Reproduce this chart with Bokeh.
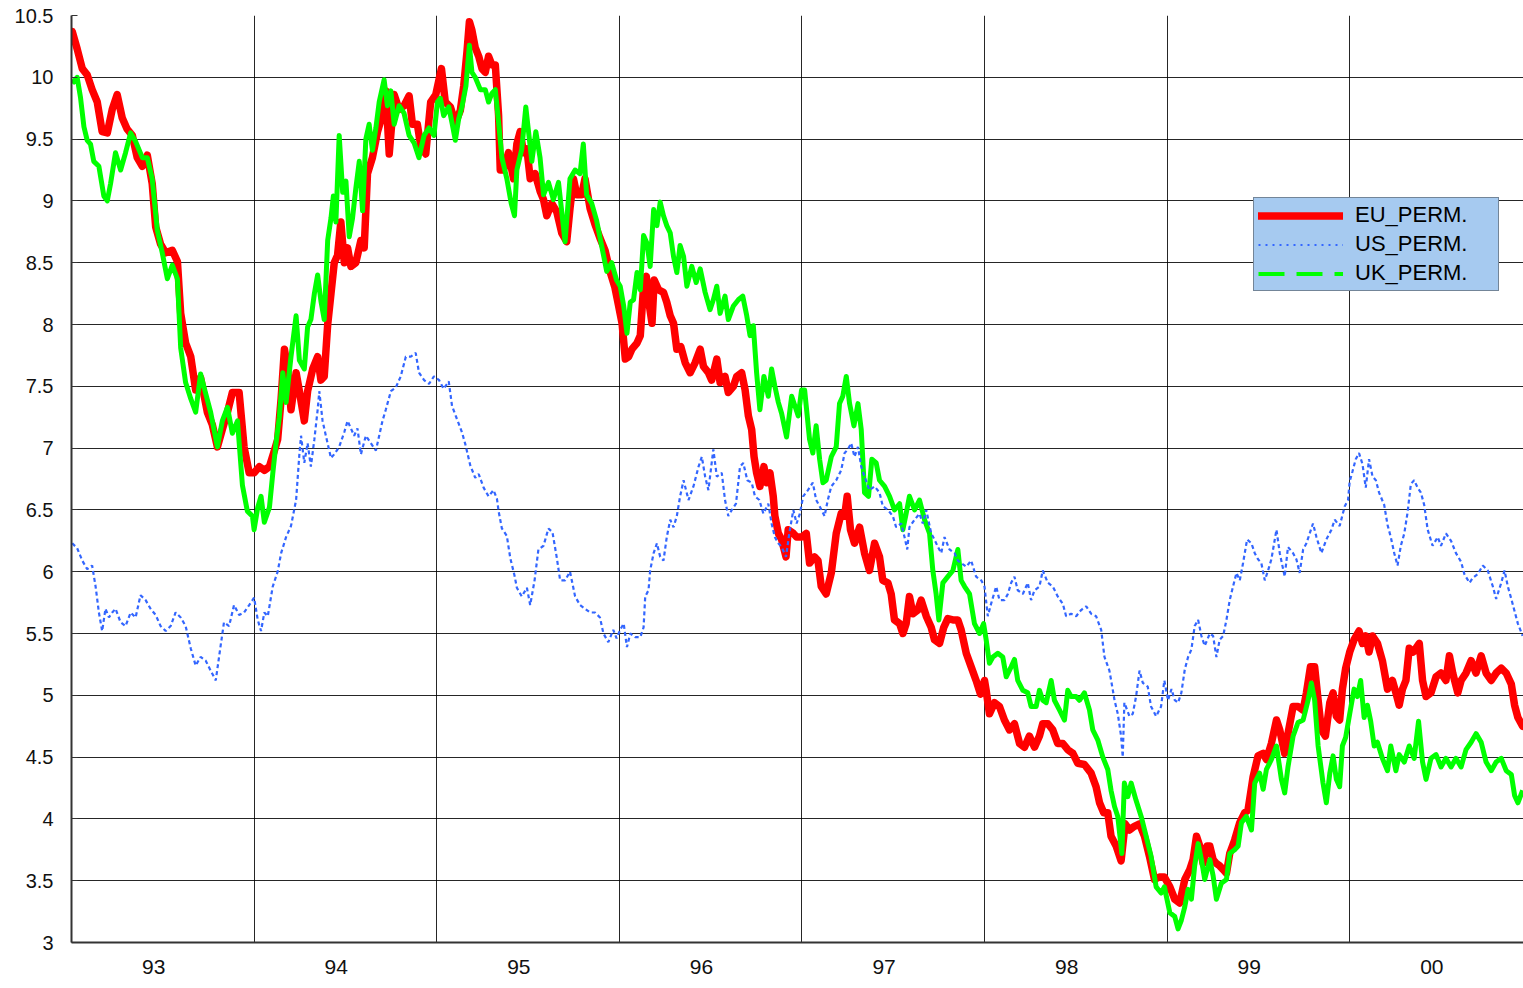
from bokeh.plotting import figure
from bokeh.models import Range1d, FixedTicker, Legend, LegendItem, CustomJSTickFormatter
from bokeh.embed import file_html
from bokeh.resources import INLINE

# (decimal year, value)
eu_perm = [
 (1993.004,10.37),(1993.031,10.23),(1993.059,10.07),(1993.086,10.02),(1993.113,9.90),(1993.141,9.80),(1993.168,9.56),(1993.196,9.55),
 (1993.223,9.74),(1993.250,9.86),(1993.278,9.67),(1993.305,9.58),(1993.333,9.53),(1993.360,9.35),(1993.388,9.28),(1993.415,9.37),
 (1993.442,9.14),(1993.461,8.79),(1993.488,8.65),(1993.516,8.58),(1993.552,8.60),(1993.580,8.51),(1993.598,8.09),(1993.625,7.85),
 (1993.653,7.74),(1993.680,7.47),(1993.707,7.57),(1993.744,7.29),(1993.771,7.19),(1993.799,7.01),(1993.826,7.15),(1993.854,7.29),
 (1993.881,7.45),(1993.918,7.45),(1993.945,7.01),(1993.973,6.80),
 (1994.000,6.80),(1994.029,6.85),(1994.056,6.82),(1994.084,6.85),(1994.111,6.98),(1994.129,7.07),(1994.148,7.40),(1994.166,7.80),
 (1994.184,7.64),(1994.202,7.31),(1994.230,7.61),(1994.248,7.46),(1994.275,7.22),(1994.293,7.46),(1994.321,7.64),(1994.348,7.74),
 (1994.366,7.55),(1994.384,7.58),(1994.403,8.00),(1994.421,8.25),(1994.439,8.50),(1994.457,8.56),(1994.475,8.83),(1994.494,8.50),
 (1994.512,8.62),(1994.530,8.47),(1994.557,8.50),(1994.585,8.68),(1994.603,8.62),(1994.621,9.22),(1994.648,9.35),(1994.676,9.56),
 (1994.694,9.65),(1994.721,9.89),(1994.740,9.38),(1994.767,9.86),(1994.794,9.74),(1994.821,9.77),(1994.849,9.85),(1994.867,9.62),
 (1994.894,9.62),(1994.913,9.44),(1994.940,9.38),(1994.967,9.80),(1994.995,9.86),
 (1995.011,9.97),(1995.026,10.07),(1995.047,9.80),(1995.075,9.76),(1995.102,9.63),(1995.129,9.73),(1995.148,9.93),(1995.166,10.21),
 (1995.179,10.45),(1995.193,10.38),(1995.211,10.24),(1995.230,10.17),(1995.248,10.07),(1995.266,10.04),(1995.284,10.17),(1995.302,10.10),
 (1995.321,10.10),(1995.339,9.69),(1995.348,9.25),(1995.366,9.25),(1995.393,9.39),(1995.421,9.18),(1995.439,9.46),(1995.457,9.56),
 (1995.475,9.39),(1995.494,9.42),(1995.512,9.18),(1995.539,9.22),(1995.566,9.08),(1995.585,9.01),(1995.603,8.88),(1995.630,8.98),
 (1995.658,8.91),(1995.685,8.74),(1995.712,8.67),(1995.730,8.94),(1995.749,9.18),(1995.767,9.05),(1995.794,9.05),(1995.812,9.18),
 (1995.840,8.94),(1995.867,8.81),(1995.894,8.70),(1995.922,8.60),(1995.949,8.43),(1995.976,8.30),(1995.995,8.16),
 (1996.015,8.01),(1996.033,7.72),(1996.051,7.74),(1996.069,7.80),(1996.097,7.85),(1996.115,7.91),(1996.133,8.31),(1996.148,8.39),
 (1996.160,8.20),(1996.179,8.01),(1996.191,8.36),(1996.215,8.28),(1996.242,8.26),(1996.260,8.18),(1996.279,8.07),(1996.297,8.01),
 (1996.315,7.80),(1996.337,7.82),(1996.361,7.69),(1996.388,7.61),(1996.415,7.69),(1996.443,7.80),(1996.461,7.66),(1996.488,7.61),
 (1996.506,7.55),(1996.534,7.72),(1996.552,7.53),(1996.579,7.58),(1996.597,7.45),(1996.625,7.50),(1996.643,7.58),(1996.670,7.61),
 (1996.689,7.47),(1996.707,7.26),(1996.725,7.15),(1996.738,6.93),(1996.752,6.80),(1996.770,6.69),(1996.792,6.85),(1996.807,6.72),
 (1996.825,6.80),(1996.843,6.61),(1996.852,6.45),(1996.871,6.31),(1996.889,6.26),(1996.913,6.12),(1996.925,6.34),(1996.953,6.31),
 (1996.971,6.28),(1996.998,6.28),
 (1997.024,6.31),(1997.042,6.07),(1997.069,6.12),(1997.088,6.09),(1997.106,5.88),(1997.133,5.82),(1997.161,5.99),(1997.188,6.31),
 (1997.215,6.47),(1997.234,6.45),(1997.248,6.61),(1997.266,6.34),(1997.288,6.23),(1997.316,6.36),(1997.343,6.15),(1997.370,6.01),
 (1997.398,6.23),(1997.425,6.12),(1997.443,5.93),(1997.471,5.91),(1997.489,5.82),(1997.507,5.61),(1997.535,5.58),(1997.553,5.50),
 (1997.571,5.58),(1997.589,5.80),(1997.608,5.66),(1997.635,5.69),(1997.653,5.77),(1997.681,5.64),(1997.708,5.55),(1997.726,5.45),
 (1997.754,5.42),(1997.777,5.55),(1997.799,5.62),(1997.827,5.61),(1997.854,5.61),(1997.872,5.53),(1997.900,5.34),(1997.927,5.23),
 (1997.954,5.12),(1997.978,5.01),
 (1998.000,5.12),(1998.009,5.04),(1998.027,4.85),(1998.055,4.94),(1998.082,4.91),(1998.109,4.80),(1998.137,4.72),(1998.164,4.77),
 (1998.192,4.61),(1998.219,4.58),(1998.246,4.67),(1998.274,4.58),(1998.301,4.67),(1998.319,4.77),(1998.347,4.77),(1998.374,4.72),
 (1998.401,4.61),(1998.429,4.61),(1998.456,4.56),(1998.484,4.53),(1998.511,4.45),(1998.547,4.44),(1998.584,4.37),(1998.611,4.26),
 (1998.630,4.13),(1998.653,4.05),(1998.675,4.05),(1998.693,3.86),(1998.721,3.78),(1998.748,3.66),(1998.770,3.96),(1998.794,3.91),
 (1998.821,3.94),(1998.849,3.96),(1998.876,3.86),(1998.903,3.70),(1998.931,3.51),(1998.958,3.53),(1998.985,3.53),
 (1999.015,3.45),(1999.042,3.35),(1999.069,3.32),(1999.097,3.51),(1999.124,3.59),(1999.142,3.67),(1999.161,3.86),(1999.179,3.78),
 (1999.197,3.64),(1999.219,3.78),(1999.234,3.78),(1999.252,3.67),(1999.270,3.64),(1999.288,3.62),(1999.307,3.59),(1999.325,3.56),
 (1999.343,3.72),(1999.370,3.83),(1999.398,3.97),(1999.425,4.05),(1999.443,4.07),(1999.471,4.34),(1999.498,4.51),(1999.526,4.53),
 (1999.544,4.48),(1999.571,4.61),(1999.599,4.80),(1999.617,4.72),(1999.644,4.53),(1999.662,4.69),(1999.690,4.91),(1999.717,4.91),
 (1999.745,4.88),(1999.763,5.02),(1999.785,5.23),(1999.808,5.23),(1999.827,4.96),(1999.845,4.72),(1999.867,4.67),(1999.891,4.94),
 (1999.909,5.02),(1999.927,4.83),(1999.945,4.80),(1999.960,5.05),(1999.978,5.22),
 (2000.000,5.35),(2000.024,5.45),(2000.051,5.52),(2000.070,5.42),(2000.088,5.48),(2000.106,5.35),(2000.125,5.48),(2000.152,5.42),
 (2000.179,5.28),(2000.207,5.05),(2000.234,5.12),(2000.253,5.02),(2000.271,4.92),(2000.289,5.05),(2000.308,5.12),(2000.326,5.38),
 (2000.348,5.35),(2000.381,5.42),(2000.399,5.12),(2000.418,4.99),(2000.445,5.02),(2000.473,5.15),(2000.500,5.18),(2000.527,5.12),
 (2000.546,5.32),(2000.564,5.18),(2000.592,5.02),(2000.610,5.12),(2000.637,5.18),(2000.665,5.28),(2000.692,5.18),(2000.720,5.32),
 (2000.747,5.18),(2000.775,5.12),(2000.802,5.18),(2000.830,5.22),(2000.857,5.18),(2000.885,5.09),(2000.903,4.92),(2000.921,4.82),
 (2000.947,4.75),
]

uk_perm = [
 (1993.004,9.95),(1993.031,10.00),(1993.049,9.84),(1993.068,9.60),(1993.086,9.49),(1993.104,9.46),(1993.122,9.32),(1993.150,9.28),
 (1993.177,9.04),(1993.196,9.00),(1993.214,9.14),(1993.241,9.39),(1993.269,9.25),(1993.296,9.39),(1993.324,9.55),(1993.351,9.48),
 (1993.388,9.35),(1993.415,9.35),(1993.442,9.18),(1993.470,8.76),(1993.497,8.58),(1993.525,8.37),(1993.552,8.48),(1993.580,8.37),
 (1993.598,7.81),(1993.625,7.53),(1993.653,7.40),(1993.680,7.29),(1993.707,7.60),(1993.735,7.44),(1993.762,7.29),(1993.799,7.01),
 (1993.826,7.22),(1993.854,7.33),(1993.881,7.12),(1993.909,7.22),(1993.936,6.70),(1993.963,6.49),(1993.991,6.45),
 (1994.000,6.34),(1994.020,6.52),(1994.038,6.61),(1994.056,6.40),(1994.084,6.52),(1994.102,6.79),(1994.120,7.04),(1994.138,7.25),
 (1994.157,7.61),(1994.175,7.37),(1994.202,7.74),(1994.230,8.07),(1994.248,7.71),(1994.275,7.64),(1994.293,7.98),(1994.311,8.04),
 (1994.330,8.25),(1994.348,8.40),(1994.366,8.19),(1994.384,8.04),(1994.403,8.68),(1994.421,8.86),(1994.434,9.04),(1994.448,8.83),
 (1994.466,9.53),(1994.485,9.07),(1994.503,9.16),(1994.521,8.71),(1994.539,8.86),(1994.557,9.10),(1994.576,9.32),(1994.594,8.92),
 (1994.612,9.50),(1994.630,9.62),(1994.648,9.41),(1994.667,9.59),(1994.685,9.80),(1994.712,9.98),(1994.730,9.77),(1994.749,9.89),
 (1994.767,9.62),(1994.794,9.77),(1994.821,9.71),(1994.849,9.53),(1994.876,9.47),(1994.903,9.35),(1994.931,9.53),(1994.958,9.59),
 (1994.985,9.53),
 (1995.004,9.80),(1995.020,9.83),(1995.038,9.69),(1995.066,9.76),(1995.084,9.63),(1995.102,9.49),(1995.120,9.66),(1995.138,9.76),
 (1995.160,9.93),(1995.179,10.26),(1995.193,10.04),(1995.211,10.00),(1995.239,9.90),(1995.266,9.90),(1995.284,9.80),(1995.302,9.87),
 (1995.321,9.90),(1995.342,9.59),(1995.357,9.35),(1995.384,9.18),(1995.408,8.98),(1995.426,8.88),(1995.439,9.25),(1995.466,9.42),
 (1995.488,9.76),(1995.503,9.56),(1995.521,9.32),(1995.543,9.56),(1995.566,9.35),(1995.585,9.05),(1995.612,9.15),(1995.639,9.01),
 (1995.667,9.15),(1995.685,8.91),(1995.703,8.67),(1995.730,9.18),(1995.758,9.25),(1995.785,9.22),(1995.803,9.46),(1995.821,9.05),
 (1995.849,8.98),(1995.876,8.84),(1995.903,8.64),(1995.931,8.43),(1995.958,8.50),(1995.985,8.36),
 (1996.005,8.31),(1996.024,8.15),(1996.042,7.93),(1996.060,8.18),(1996.078,8.20),(1996.097,8.42),(1996.115,8.28),(1996.133,8.72),
 (1996.151,8.66),(1996.169,8.47),(1996.188,8.93),(1996.206,8.80),(1996.224,8.99),(1996.242,8.88),(1996.260,8.80),(1996.279,8.74),
 (1996.297,8.55),(1996.315,8.42),(1996.333,8.64),(1996.352,8.55),(1996.370,8.31),(1996.397,8.47),(1996.421,8.34),(1996.443,8.45),
 (1996.470,8.26),(1996.497,8.12),(1996.515,8.20),(1996.534,8.31),(1996.552,8.09),(1996.579,8.23),(1996.597,8.04),(1996.625,8.15),
 (1996.652,8.20),(1996.676,8.23),(1996.698,8.07),(1996.716,7.91),(1996.734,7.99),(1996.752,7.61),(1996.770,7.31),(1996.792,7.58),
 (1996.816,7.42),(1996.834,7.64),(1996.852,7.50),(1996.871,7.37),(1996.889,7.28),(1996.916,7.09),(1996.944,7.42),(1996.962,7.34),
 (1996.980,7.26),(1996.998,7.47),
 (1997.015,7.47),(1997.042,7.07),(1997.060,6.96),(1997.078,7.18),(1997.097,6.91),(1997.115,6.72),(1997.133,6.74),(1997.161,6.93),
 (1997.188,7.01),(1997.206,7.36),(1997.224,7.42),(1997.243,7.58),(1997.261,7.36),(1997.285,7.18),(1997.307,7.36),(1997.325,7.15),
 (1997.343,6.64),(1997.365,6.61),(1997.383,6.91),(1997.407,6.88),(1997.425,6.74),(1997.453,6.69),(1997.480,6.61),(1997.507,6.50),
 (1997.535,6.55),(1997.553,6.34),(1997.571,6.47),(1997.589,6.61),(1997.617,6.50),(1997.644,6.58),(1997.672,6.42),(1997.699,6.31),
 (1997.717,6.01),(1997.735,5.82),(1997.750,5.61),(1997.772,5.91),(1997.799,5.96),(1997.827,6.01),(1997.854,6.18),(1997.872,5.93),
 (1997.891,5.88),(1997.918,5.82),(1997.945,5.58),(1997.973,5.50),(1997.995,5.58),
 (1998.009,5.45),(1998.027,5.26),(1998.046,5.31),(1998.073,5.34),(1998.100,5.31),(1998.119,5.15),(1998.146,5.23),(1998.164,5.29),
 (1998.182,5.12),(1998.210,5.04),(1998.237,5.02),(1998.255,4.91),(1998.283,4.91),(1998.301,5.04),(1998.319,4.96),(1998.338,4.94),
 (1998.365,5.12),(1998.383,4.96),(1998.411,4.88),(1998.438,4.80),(1998.456,5.04),(1998.474,4.99),(1998.502,4.99),(1998.520,4.96),
 (1998.547,5.02),(1998.575,4.88),(1998.593,4.72),(1998.620,4.64),(1998.648,4.50),(1998.675,4.40),(1998.693,4.23),(1998.712,4.10),
 (1998.730,4.02),(1998.752,3.72),(1998.766,4.29),(1998.785,4.18),(1998.803,4.29),(1998.830,4.15),(1998.858,4.02),(1998.885,3.86),
 (1998.912,3.70),(1998.940,3.45),(1998.967,3.40),(1998.985,3.45),
 (1999.015,3.24),(1999.042,3.21),(1999.060,3.11),(1999.078,3.18),(1999.097,3.29),(1999.115,3.43),(1999.133,3.35),(1999.151,3.62),
 (1999.170,3.80),(1999.188,3.67),(1999.206,3.51),(1999.234,3.67),(1999.252,3.54),(1999.270,3.35),(1999.297,3.48),(1999.325,3.51),
 (1999.343,3.72),(1999.370,3.75),(1999.389,3.78),(1999.407,3.97),(1999.434,4.02),(1999.462,3.91),(1999.480,4.29),(1999.507,4.37),
 (1999.526,4.24),(1999.544,4.40),(1999.571,4.48),(1999.599,4.59),(1999.626,4.32),(1999.644,4.21),(1999.662,4.42),(1999.690,4.67),
 (1999.717,4.78),(1999.745,4.80),(1999.772,4.96),(1999.790,5.10),(1999.808,4.96),(1999.827,4.59),(1999.854,4.29),(1999.872,4.13),
 (1999.891,4.37),(1999.909,4.51),(1999.927,4.32),(1999.945,4.26),(1999.960,4.59),(1999.978,4.66),
 (2000.000,4.85),(2000.024,5.05),(2000.042,4.99),(2000.060,5.12),(2000.079,4.82),(2000.097,4.92),(2000.115,4.79),(2000.134,4.59),
 (2000.152,4.62),(2000.179,4.49),(2000.207,4.39),(2000.225,4.59),(2000.253,4.39),(2000.271,4.52),(2000.299,4.46),(2000.326,4.59),
 (2000.353,4.49),(2000.377,4.79),(2000.399,4.46),(2000.418,4.32),(2000.445,4.49),(2000.473,4.52),(2000.500,4.42),(2000.527,4.49),
 (2000.555,4.42),(2000.582,4.49),(2000.610,4.42),(2000.637,4.56),(2000.665,4.62),(2000.692,4.69),(2000.720,4.62),(2000.747,4.46),
 (2000.775,4.39),(2000.802,4.46),(2000.830,4.49),(2000.857,4.39),(2000.885,4.36),(2000.903,4.19),(2000.921,4.13),(2000.947,4.23),
]

us_perm = [
 (1993.004,6.23),(1993.031,6.19),(1993.059,6.09),(1993.086,6.02),(1993.113,6.05),(1993.132,5.88),(1993.150,5.67),(1993.168,5.52),
 (1993.186,5.70),(1993.205,5.63),(1993.223,5.67),(1993.241,5.70),(1993.269,5.59),(1993.296,5.56),(1993.324,5.67),(1993.351,5.63),
 (1993.378,5.81),(1993.406,5.77),(1993.433,5.70),(1993.461,5.65),(1993.488,5.56),(1993.516,5.52),(1993.543,5.56),(1993.570,5.67),
 (1993.598,5.63),(1993.625,5.56),(1993.653,5.38),(1993.680,5.24),(1993.707,5.31),(1993.735,5.28),(1993.762,5.20),(1993.790,5.12),
 (1993.808,5.31),(1993.835,5.59),(1993.863,5.56),(1993.890,5.73),(1993.918,5.65),(1993.945,5.67),(1993.973,5.73),
 (1994.000,5.79),(1994.020,5.61),(1994.038,5.52),(1994.056,5.67),(1994.075,5.64),(1994.102,5.88),(1994.129,6.00),(1994.148,6.15),
 (1994.175,6.28),(1994.202,6.37),(1994.230,6.58),(1994.248,6.95),(1994.257,7.10),(1994.275,6.88),(1994.293,7.04),(1994.311,6.85),
 (1994.330,7.07),(1994.348,7.31),(1994.357,7.46),(1994.375,7.22),(1994.393,7.10),(1994.421,6.92),(1994.439,6.95),(1994.466,7.01),
 (1994.494,7.13),(1994.512,7.22),(1994.530,7.16),(1994.548,7.10),(1994.566,7.16),(1994.585,6.95),(1994.612,7.10),(1994.639,7.04),
 (1994.667,6.98),(1994.685,7.10),(1994.703,7.22),(1994.721,7.31),(1994.749,7.46),(1994.776,7.49),(1994.803,7.58),(1994.831,7.74),
 (1994.858,7.74),(1994.885,7.77),(1994.903,7.61),(1994.931,7.55),(1994.958,7.52),(1994.985,7.58),
 (1995.013,7.55),(1995.038,7.48),(1995.066,7.54),(1995.084,7.34),(1995.102,7.27),(1995.120,7.20),(1995.138,7.13),(1995.157,7.03),
 (1995.184,6.86),(1995.211,6.76),(1995.230,6.79),(1995.257,6.68),(1995.284,6.61),(1995.311,6.66),(1995.330,6.59),(1995.339,6.49),
 (1995.357,6.35),(1995.384,6.29),(1995.403,6.11),(1995.426,5.97),(1995.439,5.87),(1995.466,5.80),(1995.494,5.87),(1995.512,5.73),
 (1995.536,5.93),(1995.557,6.18),(1995.585,6.21),(1995.612,6.35),(1995.634,6.32),(1995.658,6.11),(1995.676,5.93),(1995.703,5.93),
 (1995.730,6.00),(1995.758,5.80),(1995.785,5.73),(1995.812,5.70),(1995.840,5.67),(1995.867,5.67),(1995.894,5.63),(1995.913,5.50),
 (1995.940,5.43),(1995.967,5.53),(1995.985,5.46),
 (1996.005,5.53),(1996.024,5.58),(1996.042,5.39),(1996.060,5.50),(1996.087,5.47),(1996.115,5.47),(1996.133,5.55),(1996.142,5.80),
 (1996.160,5.85),(1996.169,6.01),(1996.188,6.15),(1996.206,6.23),(1996.224,6.12),(1996.242,6.09),(1996.260,6.28),(1996.279,6.42),
 (1996.297,6.36),(1996.315,6.45),(1996.333,6.61),(1996.352,6.74),(1996.379,6.58),(1996.406,6.69),(1996.434,6.85),(1996.452,6.93),
 (1996.470,6.77),(1996.488,6.66),(1996.515,6.99),(1996.534,6.77),(1996.561,6.80),(1996.579,6.58),(1996.597,6.45),(1996.616,6.50),
 (1996.639,6.55),(1996.661,6.85),(1996.679,6.88),(1996.701,6.74),(1996.725,6.72),(1996.743,6.61),(1996.767,6.58),(1996.789,6.47),
 (1996.816,6.55),(1996.834,6.39),(1996.852,6.28),(1996.871,6.23),(1996.889,6.20),(1996.913,6.12),(1996.931,6.31),(1996.953,6.50),
 (1996.971,6.39),(1996.989,6.47),
 (1997.007,6.61),(1997.033,6.66),(1997.060,6.72),(1997.078,6.58),(1997.097,6.53),(1997.124,6.45),(1997.142,6.58),(1997.161,6.69),
 (1997.188,6.74),(1997.215,6.82),(1997.234,6.96),(1997.252,6.99),(1997.270,7.04),(1997.288,6.93),(1997.307,7.01),(1997.325,6.85),
 (1997.343,6.77),(1997.370,6.66),(1997.398,6.69),(1997.425,6.64),(1997.443,6.53),(1997.471,6.50),(1997.498,6.45),(1997.516,6.36),
 (1997.544,6.39),(1997.562,6.28),(1997.577,6.18),(1997.589,6.36),(1997.617,6.42),(1997.644,6.47),(1997.662,6.39),(1997.681,6.50),
 (1997.708,6.31),(1997.726,6.26),(1997.745,6.20),(1997.763,6.15),(1997.781,6.28),(1997.808,6.18),(1997.836,6.15),(1997.854,6.09),
 (1997.872,6.07),(1997.900,6.04),(1997.927,6.09),(1997.954,5.96),(1997.982,5.93),
 (1998.000,5.88),(1998.018,5.64),(1998.036,5.74),(1998.064,5.88),(1998.082,5.77),(1998.109,5.77),(1998.128,5.82),(1998.146,5.91),
 (1998.164,5.96),(1998.182,5.85),(1998.210,5.82),(1998.237,5.91),(1998.255,5.77),(1998.274,5.85),(1998.301,5.88),(1998.319,6.01),
 (1998.347,5.91),(1998.374,5.88),(1998.401,5.80),(1998.429,5.74),(1998.447,5.64),(1998.474,5.66),(1998.502,5.64),(1998.529,5.69),
 (1998.557,5.72),(1998.584,5.66),(1998.611,5.64),(1998.639,5.53),(1998.657,5.31),(1998.684,5.20),(1998.703,5.04),(1998.712,4.96),
 (1998.730,4.85),(1998.748,4.67),(1998.757,4.50),(1998.766,4.94),(1998.794,4.83),(1998.812,4.85),(1998.830,4.99),(1998.849,5.20),
 (1998.867,5.10),(1998.894,5.07),(1998.912,4.91),(1998.940,4.83),(1998.967,4.91),(1998.985,5.12),
 (1999.005,4.96),(1999.024,5.05),(1999.042,4.96),(1999.060,4.94),(1999.078,5.02),(1999.097,5.21),(1999.115,5.31),(1999.133,5.37),
 (1999.151,5.56),(1999.170,5.61),(1999.188,5.48),(1999.206,5.40),(1999.234,5.50),(1999.252,5.48),(1999.270,5.31),(1999.288,5.45),
 (1999.307,5.48),(1999.325,5.61),(1999.343,5.77),(1999.361,5.88),(1999.380,5.99),(1999.398,5.93),(1999.416,6.07),(1999.438,6.26),
 (1999.462,6.23),(1999.480,6.15),(1999.498,6.10),(1999.516,6.07),(1999.535,5.93),(1999.553,6.01),(1999.571,6.10),(1999.599,6.34),
 (1999.617,6.15),(1999.644,5.96),(1999.662,6.20),(1999.690,6.15),(1999.708,6.10),(1999.726,5.99),(1999.745,6.18),(1999.763,6.23),
 (1999.781,6.31),(1999.799,6.39),(1999.818,6.28),(1999.845,6.15),(1999.872,6.26),(1999.900,6.34),(1999.918,6.42),(1999.945,6.37),
 (1999.973,6.53),(1999.991,6.58),
 (2000.000,6.73),(2000.015,6.81),(2000.033,6.91),(2000.051,6.96),(2000.070,6.87),(2000.088,6.68),(2000.106,6.91),(2000.125,6.77),
 (2000.143,6.74),(2000.161,6.64),(2000.189,6.54),(2000.207,6.38),(2000.225,6.28),(2000.244,6.15),(2000.262,6.05),(2000.280,6.21),
 (2000.299,6.31),(2000.317,6.48),(2000.335,6.71),(2000.353,6.74),(2000.372,6.68),(2000.390,6.64),(2000.408,6.54),(2000.427,6.34),
 (2000.454,6.21),(2000.482,6.28),(2000.500,6.21),(2000.527,6.31),(2000.555,6.25),(2000.582,6.15),(2000.610,6.08),(2000.628,5.98),
 (2000.656,5.91),(2000.674,5.95),(2000.701,5.98),(2000.729,6.05),(2000.756,6.01),(2000.784,5.88),(2000.802,5.78),(2000.830,5.91),
 (2000.848,6.01),(2000.866,5.88),(2000.885,5.78),(2000.903,5.68),(2000.921,5.58),(2000.947,5.48),
]

series_names = ["EU_PERM.", "US_PERM.", "UK_PERM."]
year_labels = ["93", "94", "95", "96", "97", "98", "99", "00"]
first_year = 1993
y_ticks = [3.0, 3.5, 4.0, 4.5, 5.0, 5.5, 6.0, 6.5, 7.0, 7.5, 8.0, 8.5, 9.0, 9.5, 10.0, 10.5]

# ---------------- layout / style ----------------
W, H = 1523, 988
BORDER_L, BORDER_T, FRAME_H = 71, 15, 927
FRAME_W = W - BORDER_L
PX_PER_YEAR = 182.6
FONT = "Liberation Sans"

p = figure(width=W, height=H, output_backend="svg", toolbar_location=None,
           x_range=Range1d(first_year, first_year + FRAME_W / PX_PER_YEAR),
           y_range=Range1d(y_ticks[0], y_ticks[-1]),
           min_border_left=BORDER_L, min_border_right=0, min_border_top=BORDER_T,
           min_border_bottom=H - BORDER_T - FRAME_H)
p.outline_line_color = None
p.background_fill_color = "white"
p.border_fill_color = "white"

# grids
p.xgrid.ticker = FixedTicker(ticks=[first_year + i for i in range(1, len(year_labels))])
p.ygrid.ticker = FixedTicker(ticks=y_ticks)
for g in (p.xgrid, p.ygrid):
    g.grid_line_color = "#000000"
    g.grid_line_width = 1
    g.grid_line_alpha = 0.85

# axes
p.yaxis.ticker = FixedTicker(ticks=y_ticks)
p.yaxis.formatter = CustomJSTickFormatter(code="return String(Math.round(tick*10)/10);")
p.yaxis.major_label_text_font = FONT
p.yaxis.major_label_text_font_size = "20px"
p.yaxis.major_label_text_color = "#111111"
p.yaxis.major_tick_out = 0
p.yaxis.major_tick_in = 6
p.yaxis.major_tick_line_color = "#333333"
p.yaxis.minor_tick_line_color = None
p.yaxis.axis_line_color = "#333333"
p.yaxis.axis_line_width = 2
p.yaxis.major_label_standoff = 18

p.xaxis.ticker = FixedTicker(ticks=[first_year + i + 0.45 for i in range(len(year_labels))])
p.xaxis.formatter = CustomJSTickFormatter(args=dict(labels=year_labels, first=first_year),
                                          code="return labels[Math.floor(tick) - first];")
p.xaxis.major_label_text_font = FONT
p.xaxis.major_label_text_font_size = "21px"
p.xaxis.major_label_text_color = "#111111"
p.xaxis.major_tick_out = 0
p.xaxis.major_tick_in = 0
p.xaxis.minor_tick_line_color = None
p.xaxis.axis_line_color = "#333333"
p.xaxis.axis_line_width = 2
p.xaxis.major_label_standoff = 17

# data lines
eu_x, eu_y = zip(*eu_perm)
uk_x, uk_y = zip(*uk_perm)
us_x, us_y = zip(*us_perm)

r_eu = p.line(list(eu_x), list(eu_y), line_color="#ff0000", line_width=7.5, line_join="round", line_cap="round")
r_uk = p.line(list(uk_x), list(uk_y), line_color="#00ff00", line_width=5, line_join="round")
r_us = p.line(list(us_x), list(us_y), line_color="#3366ff", line_width=2.2, line_dash="4 3")

# legend-only glyph styles (no visible marks)
nan = float("nan")
l_us = p.line([nan, nan], [nan, nan], line_color="#3366ff", line_width=2, line_dash="2 5")
l_uk = p.line([nan, nan], [nan, nan], line_color="#00ff00", line_width=4, line_dash="26 12")

legend = Legend(items=[LegendItem(label=series_names[0], renderers=[r_eu]),
                       LegendItem(label=series_names[1], renderers=[l_us]),
                       LegendItem(label=series_names[2], renderers=[l_uk])],
                location=(1182, 651), orientation="vertical")
legend.background_fill_color = "#a6caf0"
legend.background_fill_alpha = 1.0
legend.border_line_color = "#404040"
legend.border_line_width = 1
legend.label_text_font = FONT
legend.label_text_font_size = "22px"
legend.label_text_color = "#000000"
legend.padding = 4
legend.margin = 0
legend.spacing = 3
legend.glyph_width = 85
legend.glyph_height = 25
legend.label_height = 25
legend.label_standoff = 12
legend.label_width = 139
p.add_layout(legend)

open("out.html", "w").write(file_html(p, INLINE))
